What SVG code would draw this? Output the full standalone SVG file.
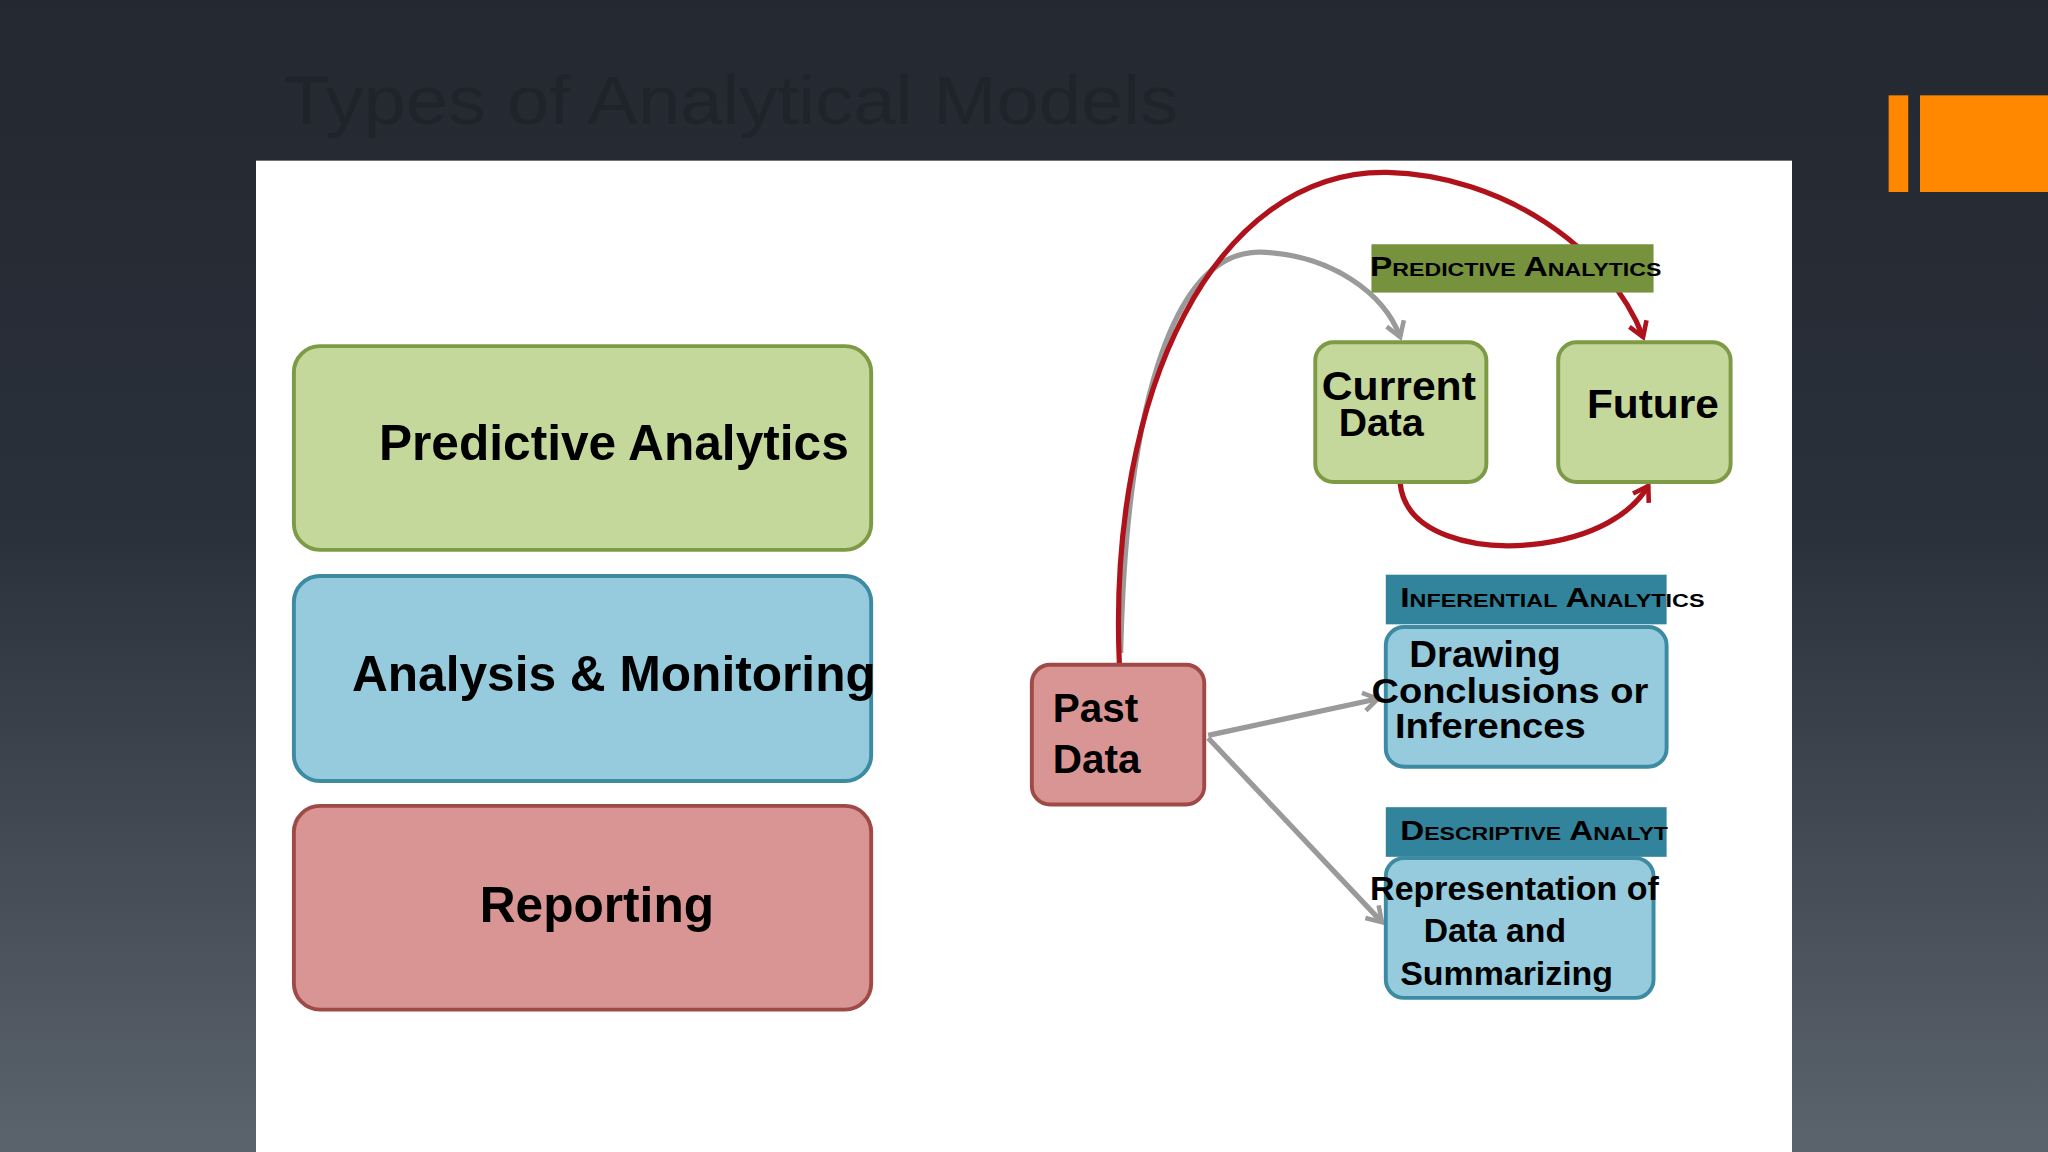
<svg xmlns="http://www.w3.org/2000/svg" width="2048" height="1152" viewBox="0 0 2048 1152">
<defs>
<linearGradient id="bg" x1="0" y1="0" x2="0" y2="1">
<stop offset="0" stop-color="#232831"/><stop offset="0.45" stop-color="#2a3039"/><stop offset="1" stop-color="#5b636c"/>
</linearGradient>
<marker id="ar" markerWidth="18" markerHeight="18" refX="13" refY="9" orient="auto" markerUnits="userSpaceOnUse" viewBox="0 0 18 18"><path d="M2,2 L13,9 L2,16" fill="none" stroke="#b0121b" stroke-width="3.5"/></marker>
<marker id="ag" markerWidth="18" markerHeight="18" refX="13" refY="9" orient="auto" markerUnits="userSpaceOnUse" viewBox="0 0 18 18"><path d="M2,2 L13,9 L2,16" fill="none" stroke="#9a9a9a" stroke-width="3.5"/></marker>
<style>
.t{font-family:"Liberation Sans",Arial,sans-serif;font-weight:bold;fill:#000}
.sc{font-variant:small-caps;font-size:21px}
.g{fill:#c5d89c;stroke:#7d9a45;stroke-width:3}
.b{fill:#95cbdd;stroke:#3d8aa3;stroke-width:3}
.r{fill:#d99594;stroke:#a04a48;stroke-width:3}
.red{fill:none;stroke:#b0121b;stroke-width:4}
.gr{fill:none;stroke:#9a9a9a;stroke-width:4}
</style>
</defs>
<rect width="2048" height="1152" fill="url(#bg)"/>
<g transform="scale(1.30612)">
<text x="217" y="95" font-family="Liberation Sans,Arial,sans-serif" font-size="52" fill="#1f242b" textLength="685" lengthAdjust="spacingAndGlyphs">Types of Analytical Models</text>
<rect x="1446" y="73" width="15" height="74" fill="#ff8800"/>
<rect x="1470" y="73" width="100" height="74" fill="#ff8800"/>
<rect x="196" y="123" width="1176" height="760" fill="#fff"/>
<g id="predictive"><rect class="g" x="225" y="265" width="442" height="156" rx="20"/><text class="t" x="470" y="352" font-size="38" text-anchor="middle">Predictive Analytics</text></g>
<g id="analysis"><rect class="b" x="225" y="441" width="442" height="157" rx="20"/><text class="t" x="470" y="529" font-size="38" text-anchor="middle">Analysis &amp; Monitoring</text></g>
<g id="reporting"><rect class="r" x="225" y="617" width="442" height="156" rx="20"/><text class="t" x="457" y="706" font-size="38" text-anchor="middle">Reporting</text></g>
<g id="connectors">
<path class="gr" d="M858,500 C862,320 895,192 965,193 C1020,195 1060,225 1072,258" marker-end="url(#ag)"/>
<path class="red" d="M857,508 C848,300 930,130 1062,132 C1150,134 1232,190 1258,258" marker-end="url(#ar)"/>
<path class="red" d="M1072,370 C1076,410 1130,421 1172,417 C1222,412 1250,392 1262,372" marker-end="url(#ar)"/>
<path class="gr" d="M925,563 L1055,535" marker-end="url(#ag)"/>
<path class="gr" d="M925,565 L1058,706" marker-end="url(#ag)"/>
</g>
<g id="past"><rect class="r" x="790" y="509" width="132" height="107" rx="14"/><text class="t" x="806" y="553" font-size="31">Past</text><text class="t" x="806" y="592" font-size="31">Data</text></g>
<g id="current"><rect class="g" x="1007" y="262" width="131" height="107" rx="14"/><text class="t" x="1012" y="306" font-size="31" textLength="118" lengthAdjust="spacingAndGlyphs">Current</text><text class="t" x="1025" y="334" font-size="30">Data</text></g>
<g id="future"><rect class="g" x="1193" y="262" width="132" height="107" rx="14"/><text class="t" x="1215" y="320" font-size="31" textLength="101" lengthAdjust="spacingAndGlyphs">Future</text></g>
<g id="lbl-pred"><rect x="1050" y="187" width="216" height="37" fill="#76923c"/><text class="t sc" x="1049" y="211" textLength="223" lengthAdjust="spacingAndGlyphs">Predictive Analytics</text></g>
<g id="lbl-inf"><rect x="1061" y="440" width="215" height="38" fill="#31849b"/><text class="t sc" x="1072" y="465" textLength="233" lengthAdjust="spacingAndGlyphs">Inferential Analytics</text></g>
<g id="drawing"><rect class="b" x="1061" y="480" width="215" height="107" rx="14"/><text class="t" x="1079" y="511" font-size="28" textLength="116" lengthAdjust="spacingAndGlyphs">Drawing</text><text class="t" x="1050" y="538" font-size="27" textLength="212" lengthAdjust="spacingAndGlyphs">Conclusions or</text><text class="t" x="1068" y="565" font-size="27" textLength="146" lengthAdjust="spacingAndGlyphs">Inferences</text></g>
<g id="lbl-desc"><rect x="1061" y="618" width="215" height="38" fill="#31849b"/><text class="t sc" x="1072" y="643" textLength="205" lengthAdjust="spacingAndGlyphs">Descriptive Analyt</text></g>
<g id="repr"><rect class="b" x="1061" y="657" width="205" height="107" rx="14"/><text class="t" x="1049" y="689" font-size="25" textLength="221" lengthAdjust="spacingAndGlyphs">Representation of</text><text class="t" x="1090" y="721" font-size="25" textLength="109" lengthAdjust="spacingAndGlyphs">Data and</text><text class="t" x="1072" y="754" font-size="25" textLength="163" lengthAdjust="spacingAndGlyphs">Summarizing</text></g>
</g>
</svg>
